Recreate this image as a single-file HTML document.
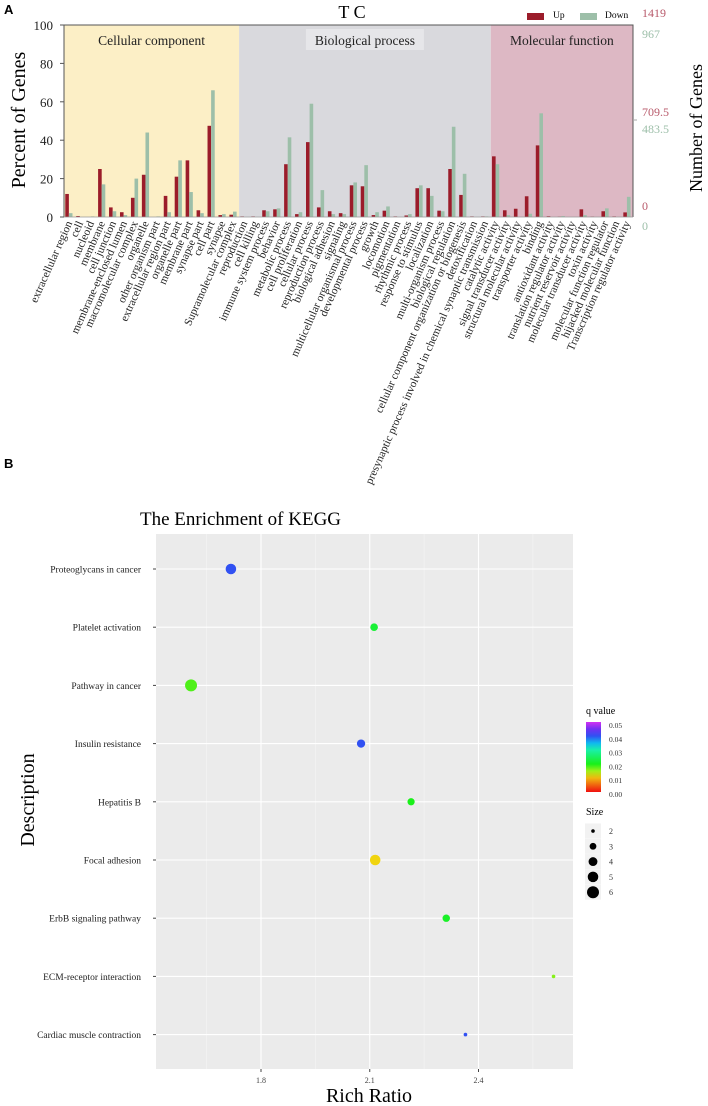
<!DOCTYPE html>
<html><head><meta charset="utf-8">
<style>
html,body{margin:0;padding:0;background:#fff;}
svg{display:block;font-family:"Liberation Serif",serif;}
</style></head>
<body>
<svg id="fig" width="708" height="1106" viewBox="0 0 708 1106" xmlns="http://www.w3.org/2000/svg">
<g id="pa"></g>
<g id="pb"></g>
</svg>
<script>
// ---------- Panel A data ----------
const goCategories = ["extracellular region","cell","nucleoid","membrane","cell junction","membrane-enclosed lumen","macromolecular complex","organelle","other organism part","extracellular region part","organelle part","membrane part","synapse part","cell part","synapse","Supramolecular complex",
"reproduction","cell killing","immune system process","behavior","metabolic process","cell proliferation","cellular process","reproduction process","biological adhesion","signaling","multicellular organismal process","developmental process","growth","locomotion","pigmentation","rhythmic process","response to stimulus","localization","multi-organism process","biological regulation","cellular component organization or biogenesis","detoxification","presynaptic process involved in chemical synaptic transmission",
"catalytic activity","signal transducer activity","structural molecular activity","transporter activity","binding","antioxidant activity","translation regulator activity","nutrient reservoir activity","molecular  transducer activity","toxin activity","molecular function regulator","hijacked molecular function","Transcription regulator activity"];
const upValues = [12,0.5,0,25,5,2.5,10,22,0,11,21,29.5,3.5,47.5,1,1.2,
0.3,0.3,3.5,4,27.5,1.5,39,5,3,2,16.5,16,1,3.3,0.3,0.8,15,15,3.3,25,11.5,0.3,0.3,
31.6,3.5,4.3,10.8,37.3,0.4,0.2,0,4,0.2,3,0.3,2.4];
const downValues = [2,0,0.3,17,3,1,20,44,0.3,2.5,29.5,13,2,66,1.5,2.8,
0,0,3,4.5,41.5,2.5,59,14,1.5,1.5,18,27,2.5,5.5,0,1.5,16.5,11,3,47,22.5,0,0.3,
27.5,1,0,1.7,54,0,0.5,0,1,0,4.5,0,10.5];
const sectionNames = ["Cellular component","Biological process","Molecular function"];
const sectionCounts = [16,23,13];
const leftTicks = [0,20,40,60,80,100];
const rightUpTicks = ["1419","709.5","0"];
const rightDownTicks = ["967","483.5","0"];

// ---------- Panel B data ----------
const pathways = ["Proteoglycans in cancer","Platelet activation","Pathway in cancer","Insulin resistance","Hepatitis B","Focal adhesion","ErbB signaling pathway","ECM-receptor interaction","Cardiac muscle contraction"];
const richRatio = [1.717,2.112,1.607,2.076,2.214,2.115,2.311,2.607,2.364];
const qValues = [0.04,0.022,0.018,0.04,0.02,0.011,0.021,0.016,0.04];
const geneSizes = [5,3.4,6,3.7,3.2,5,3.3,2,2];
const xTicks = [1.8,2.1,2.4];
const qTicks = [0.05,0.04,0.03,0.02,0.01,0.00];
const sizeTicks = [2,3,4,5,6];

const NS="http://www.w3.org/2000/svg";
function mk(parent,tag,attrs,text){const e=document.createElementNS(NS,tag);for(const k in attrs)e.setAttribute(k,attrs[k]);if(text!==undefined)e.textContent=text;parent.appendChild(e);return e;}

// ===== Panel A =====
(function(){
const g=document.getElementById('pa');
const L=64,R=633,T=25,B=217;
const n=goCategories.length, bw=(R-L)/n;
const y=v=>B-(v/100)*(B-T);
const xc=i=>L+bw*(i+0.5);
const t=mk(g,'text',{x:4,y:14,'font-family':'Liberation Sans, sans-serif','font-weight':'bold','font-size':13},'A');


const title=mk(g,'text',{x:352,y:18,'text-anchor':'middle','font-size':18},'T C');


const fills=['#fcefc6','#d9d9dd','#ddb8c4'];
let start=0;
sectionCounts.forEach((c,k)=>{
  const x0=L+start*bw, w=c*bw;
  const r=mk(g,'rect',{x:x0,y:T,width:w,height:B-T,fill:fills[k]});
  
  
  const cx=x0+w/2;
  if(k===1){const bx=mk(g,'rect',{x:cx-59,y:T+4,width:118,height:21,fill:'#e6e6e9'});
    
    }
  const st=mk(g,'text',{x:cx,y:T+20,'text-anchor':'middle','font-size':13.5,fill:'#222'},sectionNames[k]);
  
  
  start+=c;
});
for(let i=0;i<n;i++){
  const c=xc(i);
  const u=mk(g,'rect',{x:c-4.2,y:y(upValues[i]),width:3.6,height:B-y(upValues[i]),fill:'#9b1c2a'});
  
  
  const d=mk(g,'rect',{x:c-0.6,y:y(downValues[i]),width:3.6,height:B-y(downValues[i]),fill:'#9dbfa9'});
  
  
  const lb=mk(g,'text',{x:c+3,y:B+6,'text-anchor':'end','font-size':11.3,fill:'#222',transform:`rotate(-66 ${c+3} ${B+6})`},goCategories[i]);
  
  
}
const fr=mk(g,'path',{d:`M${L},${B} L${L},${T} L${R},${T} L${R},${B}`,fill:'none',stroke:'#555','stroke-width':1});


mk(g,'line',{x1:L,y1:B,x2:R,y2:B,stroke:'#999','stroke-width':0.8});
leftTicks.forEach(v=>{
  mk(g,'line',{x1:L-4,y1:y(v),x2:L,y2:y(v),stroke:'#555'});
  const tl=mk(g,'text',{x:L-11,y:y(v)+5,'text-anchor':'end','font-size':13,fill:'#222'},String(v));
  
  
});
const yt=mk(g,'text',{x:25,y:120,'text-anchor':'middle','font-size':20,transform:'rotate(-90 25 120)'},'Percent of Genes');


const yt2=mk(g,'text',{x:702,y:128,'text-anchor':'middle','font-size':18,transform:'rotate(-90 702 128)'},'Number of Genes');


const upY=[17,116,210], dnY=[38,133,230];
rightUpTicks.forEach((s,k)=>{const e=mk(g,'text',{x:642,y:upY[k],'font-size':12,fill:'#b85a6b'},s);
  
  });
rightDownTicks.forEach((s,k)=>{const e=mk(g,'text',{x:642,y:dnY[k],'font-size':12,fill:'#9dbfa9'},s);
  
  });
mk(g,'line',{x1:R,y1:120,x2:R+4,y2:120,stroke:'#aaa'});
const l1=mk(g,'rect',{x:527,y:13,width:17,height:7,fill:'#9b1c2a'});


const l1t=mk(g,'text',{x:553,y:18,'font-size':9.5},'Up');


const l2=mk(g,'rect',{x:580,y:13,width:17,height:7,fill:'#9dbfa9'});


const l2t=mk(g,'text',{x:605,y:18,'font-size':9.5},'Down');


})();

// ===== Panel B =====
(function(){
const g=document.getElementById('pb');
const L=156,R=573,T=534,B=1069;
const x=v=>261+(v-1.8)*362.5;
const rowY=i=>569+i*58.2;
const rad=s=>6*Math.sqrt(Math.max(0,(s-1.6)/4.4));
const hueStops=[0,45,120,160,230,290];
function qColor(q){
  const f=Math.max(0,Math.min(0.05,q))/0.01;
  const i=Math.min(4,Math.floor(f)), r=f-i;
  const h=hueStops[i]+(hueStops[i+1]-hueStops[i])*r;
  const l=(h>200?57:(h>60&&h<170?52:50));
  return `hsl(${h},88%,${l}%)`;
}
const bl=mk(g,'text',{x:4,y:468,'font-family':'Liberation Sans, sans-serif','font-weight':'bold','font-size':13},'B');


const tt=mk(g,'text',{x:140,y:525,'font-size':19},'The Enrichment of KEGG');


const bg=mk(g,'rect',{x:L,y:T,width:R-L,height:B-T,fill:'#ebebeb'});


[1.65,1.95,2.25,2.55].forEach(v=>mk(g,'line',{x1:x(v),y1:T,x2:x(v),y2:B,stroke:'#f5f5f5','stroke-width':0.6}));
xTicks.forEach(v=>{
  const gl=mk(g,'line',{x1:x(v),y1:T,x2:x(v),y2:B,stroke:'#fff','stroke-width':1.1});
  
  
  mk(g,'line',{x1:x(v),y1:B,x2:x(v),y2:B+3,stroke:'#444'});
  const tl=mk(g,'text',{x:x(v),y:B+14,'text-anchor':'middle','font-size':8,fill:'#444'},v.toFixed(1));
  
  
});
pathways.forEach((p,i)=>{
  const yy=rowY(i);
  const gl=mk(g,'line',{x1:L,y1:yy,x2:R,y2:yy,stroke:'#fff','stroke-width':1.1});
  
  
  mk(g,'line',{x1:L-3,y1:yy,x2:L,y2:yy,stroke:'#444'});
  const tl=mk(g,'text',{x:141,y:yy+3.5,'text-anchor':'end','font-size':9.5,fill:'#222'},p);
  
  
});
pathways.forEach((p,i)=>{
  const c=mk(g,'circle',{cx:x(richRatio[i]),cy:rowY(i),r:rad(geneSizes[i]),fill:qColor(qValues[i])});
  
  
});
const xt=mk(g,'text',{x:369,y:1102,'text-anchor':'middle','font-size':20},'Rich Ratio');


const yt=mk(g,'text',{x:34,y:800,'text-anchor':'middle','font-size':20,transform:'rotate(-90 34 800)'},'Description');


const qt=mk(g,'text',{x:586,y:714,'font-size':10},'q value');


const defs=mk(g,'defs',{});
const lg=mk(defs,'linearGradient',{id:'qg',x1:0,y1:1,x2:0,y2:0});
for(let s=0;s<=10;s++)mk(lg,'stop',{offset:s/10,'stop-color':qColor(s*0.005)});
const cb=mk(g,'rect',{x:586,y:722,width:15,height:70,fill:'url(#qg)'});


qTicks.forEach((q,k)=>{
  const yy=725+k*13.8;
  const tl=mk(g,'text',{x:609,y:yy+3,'font-size':7.5,fill:'#333'},q.toFixed(2));
  
  
});
const st=mk(g,'text',{x:586,y:815,'font-size':10},'Size');


sizeTicks.forEach((s,k)=>{
  const yy=831+k*15.3;
  mk(g,'rect',{x:585,y:yy-7.5,width:16,height:15,fill:'#f2f2f2'});
  const c=mk(g,'circle',{cx:593,cy:yy,r:rad(s),fill:'#000'});
  
  
  const tl=mk(g,'text',{x:609,y:yy+3,'font-size':8,fill:'#333'},String(s));
  
  
});
})();
</script>
</body></html>
